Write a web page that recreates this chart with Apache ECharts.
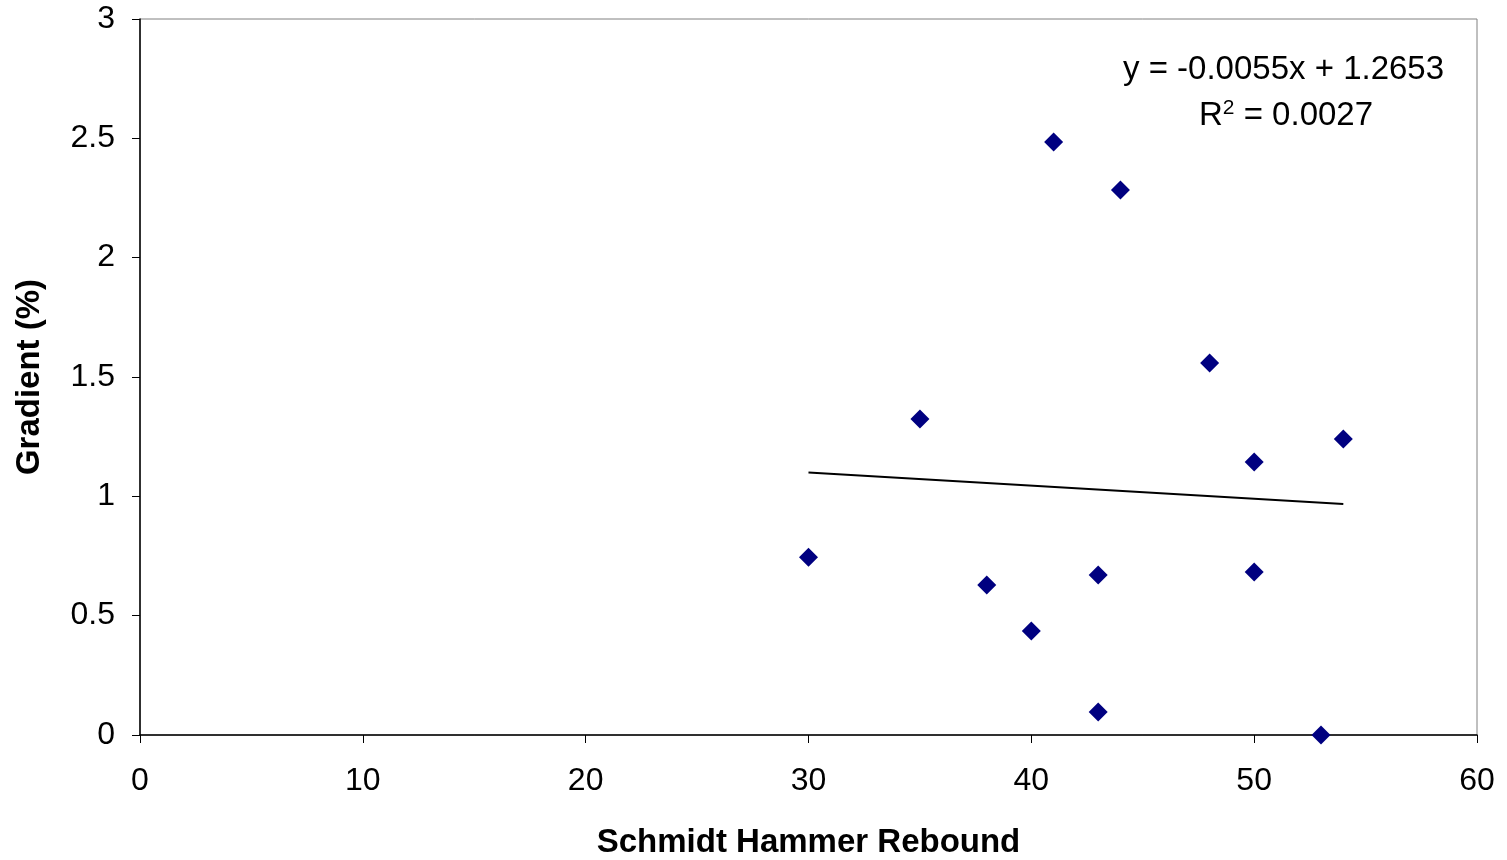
<!DOCTYPE html>
<html>
<head>
<meta charset="utf-8">
<script src="https://cdn.jsdelivr.net/npm/echarts@6/dist/echarts.min.js"></script>
<style>
  html, body { margin: 0; padding: 0; background: #fff; }
  #chart { width: 1507px; height: 860px; }
</style>
</head>
<body>
<div id="chart"></div>
<script>
// Schmidt hammer rebound vs gradient (%)
const rebound = [30, 35, 38, 40, 41, 43, 43, 44, 48, 50, 50, 53, 54];
const gradient = [0.745, 1.324, 0.628, 0.436, 2.485, 0.670, 0.096, 2.283, 1.559, 1.144, 0.683, 0.0, 1.240];
// trend line end points (y = -0.0055x + 1.2653)
const trendX = [30, 54];
const trendY = [1.100, 0.968];
const xTicks = [0, 10, 20, 30, 40, 50, 60];
const yTicks = [0, 0.5, 1, 1.5, 2, 2.5, 3];

const FONT = '"Liberation Sans", Arial, sans-serif';

const chart = echarts.init(document.getElementById('chart'));
chart.setOption({
  backgroundColor: '#fff',
  animation: false,
  grid: {
    left: 140, right: 30, top: 19, bottom: 125,
    outerBoundsMode: 'none', containLabel: false,
    show: true, borderColor: '#808080', borderWidth: 1
  },
  xAxis: {
    type: 'value', min: xTicks[0], max: xTicks[xTicks.length - 1], interval: 10,
    name: 'Schmidt Hammer Rebound', nameLocation: 'middle', nameGap: 91,
    nameTextStyle: { fontFamily: FONT, fontSize: 33, fontWeight: 'bold', color: '#000' },
    axisLine: { lineStyle: { color: '#000', width: 1.5 } },
    axisTick: { inside: false, length: 8, lineStyle: { color: '#000' } },
    axisLabel: { fontFamily: FONT, fontSize: 32, color: '#000', margin: 30 },
    splitLine: { show: false }
  },
  yAxis: {
    type: 'value', min: yTicks[0], max: yTicks[yTicks.length - 1], interval: 0.5,
    name: 'Gradient (%)', nameLocation: 'middle', nameGap: 94, nameRotate: 90,
    nameTextStyle: { fontFamily: FONT, fontSize: 33, fontWeight: 'bold', color: '#000' },
    axisLine: { lineStyle: { color: '#000', width: 1.5 } },
    axisTick: { inside: false, length: 8, lineStyle: { color: '#000' } },
    axisLabel: { fontFamily: FONT, fontSize: 32, color: '#000', margin: 25 },
    splitLine: { show: false }
  },
  series: [
    {
      type: 'scatter',
      symbol: 'diamond', symbolSize: 19,
      itemStyle: { color: '#000080', opacity: 1 },
      data: rebound.map((x, i) => [x, gradient[i]]),
      z: 3
    },
    {
      type: 'line',
      data: trendX.map((x, i) => [x, trendY[i]]),
      symbol: 'none',
      lineStyle: { color: '#000', width: 2 },
      z: 2
    }
  ],
  graphic: [
    {
      type: 'text', left: 1123, top: 53,
      style: { text: 'y = -0.0055x + 1.2653', fontFamily: FONT, fontSize: 33, fill: '#000' }
    },
    {
      type: 'text', left: 1199, top: 98,
      style: {
        text: 'R{sup|2} = 0.0027',
        fontFamily: FONT, fontSize: 33, fill: '#000',
        rich: { sup: { fontFamily: FONT, fontSize: 21, verticalAlign: 'top', padding: [0, 0, 14, 0] } }
      }
    }
  ]
});
</script>
</body>
</html>
